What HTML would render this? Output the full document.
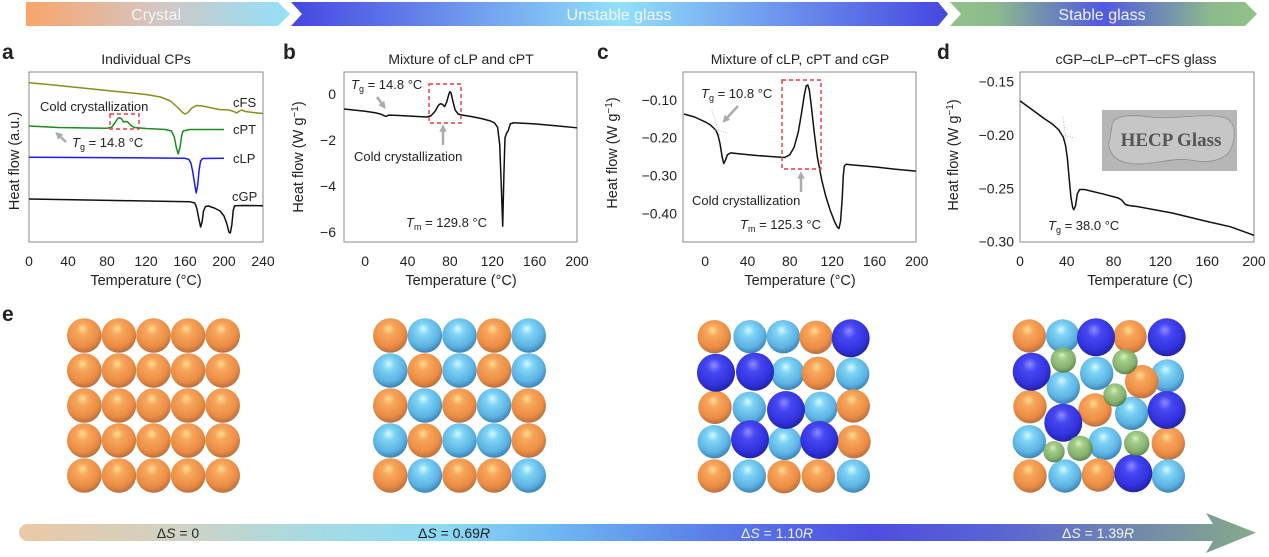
<!DOCTYPE html>
<html><head><meta charset="utf-8"><style>
html,body{margin:0;padding:0;background:#fff;}
svg{display:block;}
text{font-family:"Liberation Sans",Arial,sans-serif;fill:#222;}
</style></head><body>
<svg width="1269" height="557" viewBox="0 0 1269 557" xmlns="http://www.w3.org/2000/svg">
<defs>
<linearGradient id="gCry" gradientUnits="userSpaceOnUse" x1="26" y1="0" x2="290" y2="0">
<stop offset="0" stop-color="#f9a46a"/><stop offset="0.5" stop-color="#d4c6c4"/><stop offset="1" stop-color="#92e0fa"/></linearGradient>
<linearGradient id="gUns" gradientUnits="userSpaceOnUse" x1="291" y1="0" x2="948" y2="0">
<stop offset="0" stop-color="#4646e0"/><stop offset="0.5" stop-color="#92e0fa"/><stop offset="1" stop-color="#4646e0"/></linearGradient>
<linearGradient id="gSta" gradientUnits="userSpaceOnUse" x1="950" y1="0" x2="1257" y2="0">
<stop offset="0" stop-color="#92c28a"/><stop offset="0.15" stop-color="#8cba8c"/><stop offset="0.5" stop-color="#5058e0"/><stop offset="0.85" stop-color="#8cba8c"/><stop offset="1" stop-color="#92c28a"/></linearGradient>
<linearGradient id="gBot" gradientUnits="userSpaceOnUse" x1="19" y1="0" x2="1256" y2="0">
<stop offset="0" stop-color="#ebc8a4"/><stop offset="0.13" stop-color="#cfd2c4"/><stop offset="0.24" stop-color="#a6dbe2"/><stop offset="0.34" stop-color="#8cdaf2"/><stop offset="0.44" stop-color="#6cb4f2"/><stop offset="0.56" stop-color="#5a7ee8"/><stop offset="0.69" stop-color="#4e4ee0"/><stop offset="0.8" stop-color="#5a66d2"/><stop offset="1" stop-color="#86aa8a"/></linearGradient>
<radialGradient id="sO" cx="0.45" cy="0.38" r="0.62" fx="0.45" fy="0.3">
<stop offset="0" stop-color="#ffdc90"/><stop offset="0.28" stop-color="#f7a65c"/><stop offset="0.75" stop-color="#ec8c44"/><stop offset="1" stop-color="#b87040"/></radialGradient>
<radialGradient id="sL" cx="0.45" cy="0.38" r="0.62" fx="0.45" fy="0.3">
<stop offset="0" stop-color="#d4faff"/><stop offset="0.28" stop-color="#80d4f6"/><stop offset="0.75" stop-color="#5cb2e2"/><stop offset="1" stop-color="#3c84b4"/></radialGradient>
<radialGradient id="sD" cx="0.45" cy="0.38" r="0.62" fx="0.45" fy="0.3">
<stop offset="0" stop-color="#8c8cff"/><stop offset="0.3" stop-color="#4848f2"/><stop offset="0.75" stop-color="#3232de"/><stop offset="1" stop-color="#2222a8"/></radialGradient>
<radialGradient id="sG" cx="0.45" cy="0.38" r="0.62" fx="0.45" fy="0.3">
<stop offset="0" stop-color="#d0f2b0"/><stop offset="0.3" stop-color="#96c478"/><stop offset="0.75" stop-color="#74a65a"/><stop offset="1" stop-color="#4c7440"/></radialGradient>
<marker id="ah" viewBox="0 0 10 10" refX="5" refY="5" markerWidth="3" markerHeight="3" orient="auto">
<path d="M0,0 L10,5 L0,10 z" fill="#ababab"/></marker>
</defs>

<!-- top banner -->
<polygon points="26,2 278,2 290,14 278,26 26,26" fill="url(#gCry)"/>
<polygon points="291,2 938,2 948,14 938,26 291,26 302,14" fill="url(#gUns)"/>
<polygon points="950,2 1245,2 1257,14 1245,26 950,26 961,14" fill="url(#gSta)"/>
<text x="156" y="20" font-size="16" text-anchor="middle" style="fill:#f4f4f4">Crystal</text>
<text x="619" y="20" font-size="16" text-anchor="middle" style="fill:#f2f6ff">Unstable glass</text>
<text x="1102" y="20" font-size="16" text-anchor="middle" style="fill:#eef2ff">Stable glass</text>

<!-- panel labels -->
<text x="2" y="59" font-size="21" font-weight="bold">a</text>
<text x="283" y="59" font-size="21" font-weight="bold">b</text>
<text x="597" y="59" font-size="21" font-weight="bold">c</text>
<text x="937" y="59" font-size="21" font-weight="bold">d</text>
<text x="2" y="321" font-size="21" font-weight="bold">e</text>

<!-- titles -->
<text x="146" y="64" font-size="14" text-anchor="middle">Individual CPs</text>
<text x="461" y="64" font-size="14" text-anchor="middle">Mixture of cLP and cPT</text>
<text x="800" y="64" font-size="14" text-anchor="middle">Mixture of cLP, cPT and cGP</text>
<text x="1136" y="64" font-size="14" text-anchor="middle">cGP–cLP–cPT–cFS glass</text>

<!-- ================= Panel a ================= -->
<rect x="29" y="72" width="234" height="170" fill="none" stroke="#888" stroke-width="1"/>
<polyline fill="none" stroke="#8c8c1c" stroke-width="1.5" stroke-linejoin="round" points="29,82.7 48.5,84.5 68,86.5 87.5,88.5 107,90.5 126.5,92.5 146,94.5 160.6,97 170.4,101 177.2,107 182.1,112 185,114 187.9,112.5 191.8,108 196.7,105.5 202.6,106 209.4,107.5 219.1,109.5 228.9,110 233.8,111.5 236.7,113 239.6,111 241.6,110 245.5,111.5 253.3,112.5 263,113.5"/>
<polyline fill="none" stroke="#1f8a1f" stroke-width="1.5" stroke-linejoin="round" points="29,126 58.3,127.5 87.5,128 107,128.3 111.9,127 114.8,123 117.7,118.5 119.7,117.7 121.6,119 123.6,122 125.5,121.5 127.5,121.8 130.4,125 134.3,127.5 146,128.5 165.5,129.5 171.4,131 174.3,137 176.2,147 178.2,154 180.1,147 181.6,136 183.1,131 189.9,129.5 224,129.5"/>
<polyline fill="none" stroke="#1a1aff" stroke-width="1.5" stroke-linejoin="round" points="29,157.3 126.5,157.8 185,158.3 188.9,159.5 190.9,163 192.8,172 194.8,185 196.2,193 197.7,185 199.1,170 200.6,161 202.6,158.5 224,158.3"/>
<polyline fill="none" stroke="#111" stroke-width="1.5" stroke-linejoin="round" points="29,199 87.5,200 146,201 189.9,201.7 194.8,203 196.7,208 198.7,218 200.6,227 202.1,222 203.5,211 205.5,206.5 208.4,206 214.3,208 220.1,211 224,216 226.9,224 228.9,232 230.3,233 231.8,225 233.3,210 234.7,205.7 243.5,205.5 263,205.7"/>
<text x="233" y="107" font-size="13">cFS</text>
<text x="233" y="134" font-size="13">cPT</text>
<text x="233" y="163" font-size="13">cLP</text>
<text x="232" y="201" font-size="13">cGP</text>
<text x="40" y="111" font-size="13">Cold crystallization</text>
<rect x="110" y="114" width="29" height="15" fill="none" stroke="#e83a3a" stroke-width="1.4" stroke-dasharray="4,3"/>
<line x1="66" y1="142" x2="58" y2="134.5" stroke="#ababab" stroke-width="2.5" marker-end="url(#ah)"/>
<text x="72" y="147" font-size="13"><tspan font-style="italic">T</tspan><tspan font-size="9" dy="3">g</tspan><tspan dy="-3"> = 14.8 °C</tspan></text>
<g font-size="14" text-anchor="middle">
<text x="29" y="266">0</text><text x="68" y="266">40</text><text x="107" y="266">80</text><text x="146" y="266">120</text><text x="185" y="266">160</text><text x="224" y="266">200</text><text x="263" y="266">240</text>
</g>
<text x="146" y="285" font-size="14.5" text-anchor="middle">Temperature (°C)</text>
<text transform="translate(19,161) rotate(-90)" font-size="14.5" text-anchor="middle">Heat flow (a.u.)</text>

<!-- ================= Panel b ================= -->
<rect x="344" y="72" width="233" height="170" fill="none" stroke="#888" stroke-width="1"/>
<polyline fill="none" stroke="#111" stroke-width="1.5" stroke-linejoin="round" points="344,108.95 365.2,111.25 375.8,112.86 381.1,114.24 384.3,115.85 386.4,116.31 388.5,115.16 397,115.39 412.9,116.31 426.6,117 430.9,115.85 435.1,111.25 438.3,105.5 440.4,103.66 442.5,104.35 444.6,106.65 446.7,102.05 448.9,94 449.9,91.7 451,92.85 453.1,102.05 455.2,110.1 458.4,114.24 462.6,115.16 471.1,116.54 481.7,118.61 490.2,120.91 494.4,122.75 497.6,127.35 499.7,144.6 501.3,186 502.7,226.25 503.9,174.5 505,137.7 506.6,133.1 508.2,130.8 510.3,123.9 513.5,122.75 534.6,123.9 555.8,125.74 577,127.81"/>
<rect x="429" y="84" width="32" height="39" fill="none" stroke="#e83a3a" stroke-width="1.4" stroke-dasharray="4,3"/>
<line x1="377" y1="97" x2="383.5" y2="106" stroke="#ababab" stroke-width="2.5" marker-end="url(#ah)"/>
<line x1="443" y1="145" x2="443" y2="128" stroke="#ababab" stroke-width="2.5" marker-end="url(#ah)"/>
<text x="351" y="89" font-size="13"><tspan font-style="italic">T</tspan><tspan font-size="9" dy="3">g</tspan><tspan dy="-3"> = 14.8 °C</tspan></text>
<text x="354" y="161" font-size="13">Cold crystallization</text>
<text x="406" y="227" font-size="13"><tspan font-style="italic">T</tspan><tspan font-size="9" dy="3">m</tspan><tspan dy="-3"> = 129.8 °C</tspan></text>
<g font-size="14" text-anchor="end">
<text x="336" y="99">0</text><text x="336" y="145">−2</text><text x="336" y="191">−4</text><text x="336" y="237">−6</text>
</g>
<g font-size="14" text-anchor="middle">
<text x="365.2" y="266">0</text><text x="407.6" y="266">40</text><text x="449.9" y="266">80</text><text x="492.3" y="266">120</text><text x="534.6" y="266">160</text><text x="577" y="266">200</text>
</g>
<text x="461" y="285" font-size="14.5" text-anchor="middle">Temperature (°C)</text>
<text transform="translate(303,157) rotate(-90)" font-size="14.5" text-anchor="middle">Heat flow (W g<tspan font-size="10" dy="-5">−1</tspan><tspan dy="5">)</tspan></text>

<!-- ================= Panel c ================= -->
<rect x="683" y="72" width="233" height="170" fill="none" stroke="#888" stroke-width="1"/>
<polyline fill="none" stroke="#111" stroke-width="1.5" stroke-linejoin="round" points="684,114 694.6,117 705.2,121.9 710.5,125 715.8,130.2 717.9,134.8 720,143.5 722.1,156.7 723.7,163.5 725.3,160.5 727.4,154.8 730.6,152.9 742.2,154.1 758.1,155.6 774,156.7 784.6,157.5 789.8,154.8 794.1,147.3 798.3,132.1 801.5,113.2 804.1,96.2 806.2,86 807.8,84.9 809.4,90.5 811.5,107.6 814.2,132.1 817.3,156.7 821.6,179.4 825.8,196.4 830,209.6 834.3,221 837.5,227.4 839,228.5 840.6,221 842.2,198.3 843.3,175.6 844.3,166.2 845.9,164.3 853.3,165 874.5,166.9 895.6,169.2 916,171.1"/>
<line x1="712" y1="110" x2="720" y2="136" stroke="#bbb" stroke-width="1" stroke-dasharray="1,1.5"/>
<line x1="713" y1="129" x2="728" y2="133" stroke="#bbb" stroke-width="1" stroke-dasharray="1,1.5"/>
<rect x="782" y="80" width="39" height="89" fill="none" stroke="#e83a3a" stroke-width="1.4" stroke-dasharray="4,3"/>
<line x1="738" y1="106" x2="725" y2="120" stroke="#ababab" stroke-width="2.5" marker-end="url(#ah)"/>
<line x1="801" y1="192" x2="801" y2="175" stroke="#ababab" stroke-width="2.5" marker-end="url(#ah)"/>
<text x="701" y="98" font-size="13"><tspan font-style="italic">T</tspan><tspan font-size="9" dy="3">g</tspan><tspan dy="-3"> = 10.8 °C</tspan></text>
<text x="692" y="205" font-size="13">Cold crystallization</text>
<text x="740" y="229" font-size="13"><tspan font-style="italic">T</tspan><tspan font-size="9" dy="3">m</tspan><tspan dy="-3"> = 125.3 °C</tspan></text>
<g font-size="14" text-anchor="end">
<text x="677" y="105">−0.10</text><text x="677" y="142.7">−0.20</text><text x="677" y="180.7">−0.30</text><text x="677" y="218.3">−0.40</text>
</g>
<g font-size="14" text-anchor="middle">
<text x="705.2" y="266">0</text><text x="747.5" y="266">40</text><text x="789.8" y="266">80</text><text x="832.2" y="266">120</text><text x="874.5" y="266">160</text><text x="916.8" y="266">200</text>
</g>
<text x="800" y="285" font-size="14.5" text-anchor="middle">Temperature (°C)</text>
<text transform="translate(617,153) rotate(-90)" font-size="14.5" text-anchor="middle">Heat flow (W g<tspan font-size="10" dy="-5">−1</tspan><tspan dy="5">)</tspan></text>

<!-- ================= Panel d ================= -->
<rect x="1020" y="72" width="234" height="170" fill="none" stroke="#888" stroke-width="1"/>
<rect x="1102" y="110" width="135" height="61" fill="#b6b6b6"/>
<path d="M1112,126 C1112,116 1128,114 1150,117 C1175,120 1200,113 1222,117 C1236,120 1236,134 1232,146 C1228,160 1210,164 1190,160 C1170,157 1150,167 1128,163 C1110,160 1107,146 1110,138 Z" fill="#c6c6c6" stroke="#8e8e8e" stroke-width="0.8"/>
<text x="1171" y="146" font-size="19" font-weight="bold" text-anchor="middle" style="font-family:'Liberation Serif',serif;fill:#555">HECP Glass</text>
<polyline fill="none" stroke="#111" stroke-width="1.5" stroke-linejoin="round" points="1020,100.9 1031.7,109.4 1043.4,118 1052.8,124.4 1058.6,129.7 1063.3,137.2 1065.6,145.7 1067.4,158.5 1069.1,177.7 1070.9,196.9 1072.7,207.6 1073.8,209.7 1075.6,205.5 1077.3,193.7 1079.7,189.5 1084.4,189.5 1101.9,193.7 1118.3,198 1121.8,200.1 1125.3,204.4 1128.8,205.5 1137,206.5 1172.1,213 1207.2,221.5 1230.6,226.8 1254,235.3"/>
<line x1="1063" y1="117" x2="1066" y2="140" stroke="#bbb" stroke-width="1" stroke-dasharray="1,1.5"/>
<line x1="1060" y1="134" x2="1074" y2="138" stroke="#bbb" stroke-width="1" stroke-dasharray="1,1.5"/>
<text x="1048" y="230" font-size="13"><tspan font-style="italic">T</tspan><tspan font-size="9" dy="3">g</tspan><tspan dy="-3"> = 38.0 °C</tspan></text>
<g font-size="14" text-anchor="end">
<text x="1014" y="86.7">−0.15</text><text x="1014" y="140">−0.20</text><text x="1014" y="193.3">−0.25</text><text x="1014" y="246.7">−0.30</text>
</g>
<g font-size="14" text-anchor="middle">
<text x="1020" y="266">0</text><text x="1066.8" y="266">40</text><text x="1113.6" y="266">80</text><text x="1160.4" y="266">120</text><text x="1207.2" y="266">160</text><text x="1254" y="266">200</text>
</g>
<text x="1140" y="285" font-size="14.5" text-anchor="middle">Temperature (C)</text>
<text transform="translate(958,155) rotate(-90)" font-size="14.5" text-anchor="middle">Heat flow (W g<tspan font-size="10" dy="-5">−1</tspan><tspan dy="5">)</tspan></text>

<!-- ================= Panel e spheres ================= -->
<!-- group 1 -->
<g fill="url(#sO)">
<circle cx="84.3" cy="335.5" r="17.3"/><circle cx="118.9" cy="335.5" r="17.3"/><circle cx="153.5" cy="335.5" r="17.3"/><circle cx="188.1" cy="335.5" r="17.3"/><circle cx="222.7" cy="335.5" r="17.3"/>
<circle cx="84.3" cy="370.5" r="17.3"/><circle cx="118.9" cy="370.5" r="17.3"/><circle cx="153.5" cy="370.5" r="17.3"/><circle cx="188.1" cy="370.5" r="17.3"/><circle cx="222.7" cy="370.5" r="17.3"/>
<circle cx="84.3" cy="405.5" r="17.3"/><circle cx="118.9" cy="405.5" r="17.3"/><circle cx="153.5" cy="405.5" r="17.3"/><circle cx="188.1" cy="405.5" r="17.3"/><circle cx="222.7" cy="405.5" r="17.3"/>
<circle cx="84.3" cy="440.5" r="17.3"/><circle cx="118.9" cy="440.5" r="17.3"/><circle cx="153.5" cy="440.5" r="17.3"/><circle cx="188.1" cy="440.5" r="17.3"/><circle cx="222.7" cy="440.5" r="17.3"/>
<circle cx="84.3" cy="475.5" r="17.3"/><circle cx="118.9" cy="475.5" r="17.3"/><circle cx="153.5" cy="475.5" r="17.3"/><circle cx="188.1" cy="475.5" r="17.3"/><circle cx="222.7" cy="475.5" r="17.3"/>
</g>
<!-- group 2 -->
<g>
<circle cx="390.3" cy="335.5" r="17.3" fill="url(#sO)"/><circle cx="424.9" cy="335.5" r="17.3" fill="url(#sL)"/><circle cx="459.5" cy="335.5" r="17.3" fill="url(#sL)"/><circle cx="494.1" cy="335.5" r="17.3" fill="url(#sO)"/><circle cx="528.7" cy="335.5" r="17.3" fill="url(#sL)"/>
<circle cx="390.3" cy="370.5" r="17.3" fill="url(#sL)"/><circle cx="424.9" cy="370.5" r="17.3" fill="url(#sO)"/><circle cx="459.5" cy="370.5" r="17.3" fill="url(#sL)"/><circle cx="494.1" cy="370.5" r="17.3" fill="url(#sO)"/><circle cx="528.7" cy="370.5" r="17.3" fill="url(#sL)"/>
<circle cx="390.3" cy="405.5" r="17.3" fill="url(#sO)"/><circle cx="424.9" cy="405.5" r="17.3" fill="url(#sL)"/><circle cx="459.5" cy="405.5" r="17.3" fill="url(#sO)"/><circle cx="494.1" cy="405.5" r="17.3" fill="url(#sL)"/><circle cx="528.7" cy="405.5" r="17.3" fill="url(#sO)"/>
<circle cx="390.3" cy="440.5" r="17.3" fill="url(#sL)"/><circle cx="424.9" cy="440.5" r="17.3" fill="url(#sO)"/><circle cx="459.5" cy="440.5" r="17.3" fill="url(#sL)"/><circle cx="494.1" cy="440.5" r="17.3" fill="url(#sL)"/><circle cx="528.7" cy="440.5" r="17.3" fill="url(#sO)"/>
<circle cx="390.3" cy="475.5" r="17.3" fill="url(#sO)"/><circle cx="424.9" cy="475.5" r="17.3" fill="url(#sL)"/><circle cx="459.5" cy="475.5" r="17.3" fill="url(#sO)"/><circle cx="494.1" cy="475.5" r="17.3" fill="url(#sO)"/><circle cx="528.7" cy="475.5" r="17.3" fill="url(#sL)"/>
</g>
<!-- group 3 -->
<g>
<circle cx="714.3" cy="336.7" r="16.7" fill="url(#sO)"/><circle cx="750" cy="336.7" r="16.7" fill="url(#sL)"/><circle cx="783.3" cy="336.7" r="16.7" fill="url(#sL)"/><circle cx="816" cy="337.3" r="16.7" fill="url(#sO)"/>
<circle cx="787.7" cy="373.3" r="16.7" fill="url(#sL)"/><circle cx="818.3" cy="373.3" r="16.7" fill="url(#sO)"/><circle cx="852.7" cy="374" r="16.7" fill="url(#sL)"/>
<circle cx="715" cy="407.3" r="16.7" fill="url(#sO)"/><circle cx="749.3" cy="408.3" r="16.7" fill="url(#sL)"/><circle cx="820.7" cy="408.3" r="16.7" fill="url(#sL)"/><circle cx="853.3" cy="406" r="16.7" fill="url(#sO)"/>
<circle cx="714.3" cy="441.7" r="16.7" fill="url(#sL)"/><circle cx="785" cy="443.3" r="16.7" fill="url(#sL)"/><circle cx="854" cy="441.7" r="16.7" fill="url(#sO)"/>
<circle cx="714.3" cy="476" r="16.7" fill="url(#sO)"/><circle cx="749.3" cy="476" r="16.7" fill="url(#sL)"/><circle cx="784" cy="476.7" r="16.7" fill="url(#sO)"/><circle cx="818.3" cy="476" r="16.7" fill="url(#sO)"/><circle cx="853.3" cy="476" r="16.7" fill="url(#sL)"/>
<circle cx="850.7" cy="338.3" r="19" fill="url(#sD)"/>
<circle cx="716" cy="372.7" r="19" fill="url(#sD)"/><circle cx="755" cy="371.7" r="19" fill="url(#sD)"/>
<circle cx="786" cy="410" r="19" fill="url(#sD)"/>
<circle cx="750" cy="439.3" r="19" fill="url(#sD)"/><circle cx="819.3" cy="440" r="19" fill="url(#sD)"/>
</g>
<!-- group 4 -->
<g>
<circle cx="1029.3" cy="336" r="16.7" fill="url(#sO)"/><circle cx="1062.7" cy="336" r="16.7" fill="url(#sL)"/><circle cx="1130" cy="336.7" r="16.7" fill="url(#sO)"/>
<circle cx="1096.7" cy="373.3" r="16.7" fill="url(#sL)"/><circle cx="1167.3" cy="376" r="16.7" fill="url(#sL)"/><circle cx="1141.7" cy="381.7" r="16.7" fill="url(#sO)"/>
<circle cx="1063.3" cy="387.3" r="16.7" fill="url(#sL)"/>
<circle cx="1030" cy="406.7" r="16.7" fill="url(#sO)"/><circle cx="1095" cy="410" r="16.7" fill="url(#sO)"/><circle cx="1131.7" cy="413.3" r="16.7" fill="url(#sL)"/>
<circle cx="1029.3" cy="441.7" r="16.7" fill="url(#sL)"/><circle cx="1105" cy="443.3" r="16.7" fill="url(#sL)"/><circle cx="1168.3" cy="443.3" r="16.7" fill="url(#sO)"/>
<circle cx="1030" cy="476" r="16.7" fill="url(#sO)"/><circle cx="1065" cy="476" r="16.7" fill="url(#sL)"/><circle cx="1098.3" cy="475" r="16.7" fill="url(#sO)"/><circle cx="1168.3" cy="476" r="16.7" fill="url(#sL)"/>
<circle cx="1096" cy="337.3" r="19" fill="url(#sD)"/><circle cx="1166.7" cy="337.3" r="19" fill="url(#sD)"/>
<circle cx="1031.7" cy="371.7" r="19" fill="url(#sD)"/>
<circle cx="1063.3" cy="422.7" r="19" fill="url(#sD)"/><circle cx="1166.7" cy="410" r="19" fill="url(#sD)"/>
<circle cx="1133.3" cy="473.3" r="19" fill="url(#sD)"/>
<g opacity="0.88">
<circle cx="1063.3" cy="360" r="12.7" fill="url(#sG)"/><circle cx="1125" cy="361.7" r="12.7" fill="url(#sG)"/>
<circle cx="1115" cy="395" r="11.7" fill="url(#sG)"/>
<circle cx="1054" cy="451.7" r="10.7" fill="url(#sG)"/><circle cx="1080" cy="448.3" r="12.7" fill="url(#sG)"/><circle cx="1136.7" cy="443.3" r="12.7" fill="url(#sG)"/>
</g>
</g>

<!-- bottom arrow -->
<path d="M27.5,524 L1213,524 L1206,513 L1256,532.7 L1206,553 L1213,541 L27.5,541 A8.5,8.5 0 0 1 27.5,524 Z" fill="url(#gBot)"/>
<text x="178" y="538" font-size="14" text-anchor="middle" style="fill:#2a2a2a">Δ<tspan font-style="italic">S</tspan> = 0</text>
<text x="454" y="538" font-size="14" text-anchor="middle" style="fill:#1e1e1e">Δ<tspan font-style="italic">S</tspan> = 0.69<tspan font-style="italic">R</tspan></text>
<text x="777" y="538" font-size="14" text-anchor="middle" style="fill:#eef0ff">Δ<tspan font-style="italic">S</tspan> = 1.10<tspan font-style="italic">R</tspan></text>
<text x="1098" y="538" font-size="14" text-anchor="middle" style="fill:#f2f4ff">Δ<tspan font-style="italic">S</tspan> = 1.39<tspan font-style="italic">R</tspan></text>
</svg>
</body></html>
